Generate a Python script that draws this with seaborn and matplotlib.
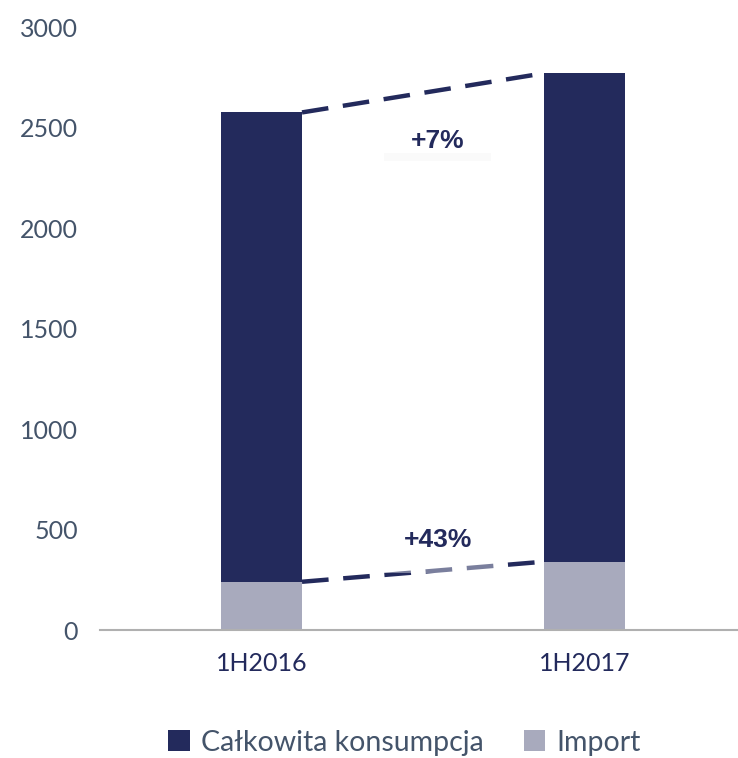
import matplotlib
matplotlib.use("Agg")
import matplotlib.pyplot as plt
import seaborn as sns
import pandas as pd

periods = ["1H2016", "1H2017"]
total_consumption = [2575, 2770]
imports = [240, 340]
growth_labels = ["+7%", "+43%"]

dark = "#232A5C"
light = "#A8AABD"
text_col = "#44546A"

sns.set_theme(style="white")
plt.rcParams["font.family"] = ["Lato", "DejaVu Sans"]

df = pd.DataFrame({"period": periods, "total": total_consumption, "import": imports})

fig = plt.figure(figsize=(7.38, 7.58), dpi=100)
ax = fig.add_axes([100 / 738, 128 / 758, 638 / 738, 603 / 758])

bw = 0.25
sns.barplot(data=df, x="period", y="total", color=dark, width=bw, ax=ax,
            saturation=1, linewidth=0, label="Całkowita konsumpcja")
sns.barplot(data=df, x="period", y="import", color=light, width=bw, ax=ax,
            saturation=1, linewidth=0, label="Import")
handles, labels = ax.get_legend_handles_labels()
if ax.get_legend() is not None:
    ax.get_legend().remove()

# dashed connectors between bar tops
x0, x1 = 0 + bw / 2, 1 - bw / 2
for series in (total_consumption, imports):
    ax.plot([x0, x1], [series[0], series[1]], color=dark, lw=3.2,
            linestyle=(0, (6, 3.3)), solid_capstyle="butt", zorder=3)

ax.text(0.545, 2433, growth_labels[0], ha="center", va="center", fontsize=19,
        fontweight="bold", color=dark, family=["Liberation Sans"])
ax.add_patch(plt.Rectangle((0.38, 2335), 0.33, 40, color="#F8F8F8", alpha=0.6,
                           zorder=2, lw=0))
ax.text(0.545, 448, growth_labels[1], ha="center", va="center", fontsize=19,
        fontweight="bold", color=dark, family=["Liberation Sans"], zorder=2)
# faint white box over the lower line
ax.add_patch(plt.Rectangle((0.33, 283), 0.42, 60, color="white", alpha=0.4,
                           zorder=4, lw=0))

ax.set_xlim(-0.5, 1.474)
ax.set_ylim(0, 3000)
ax.set_yticks(range(0, 3001, 500))
ax.set_xlabel("")
ax.set_ylabel("")
ax.tick_params(axis="both", labelsize=18, length=0)
ax.tick_params(axis="x", colors=dark, pad=16)
ax.tick_params(axis="y", colors=text_col, pad=16)
sns.despine(ax=ax, left=True)
ax.spines["bottom"].set_color("#B0B0B0")
ax.spines["bottom"].set_linewidth(1.5)

leg = fig.legend(handles, labels, loc="center", bbox_to_anchor=(0.548, 0.02),
                 ncol=2, frameon=False, fontsize=20.5, handlelength=0.75,
                 handleheight=0.75, handletextpad=0.4, columnspacing=1.4)
for t in leg.get_texts():
    t.set_color(text_col)

fig.savefig("out.png", dpi=100)
